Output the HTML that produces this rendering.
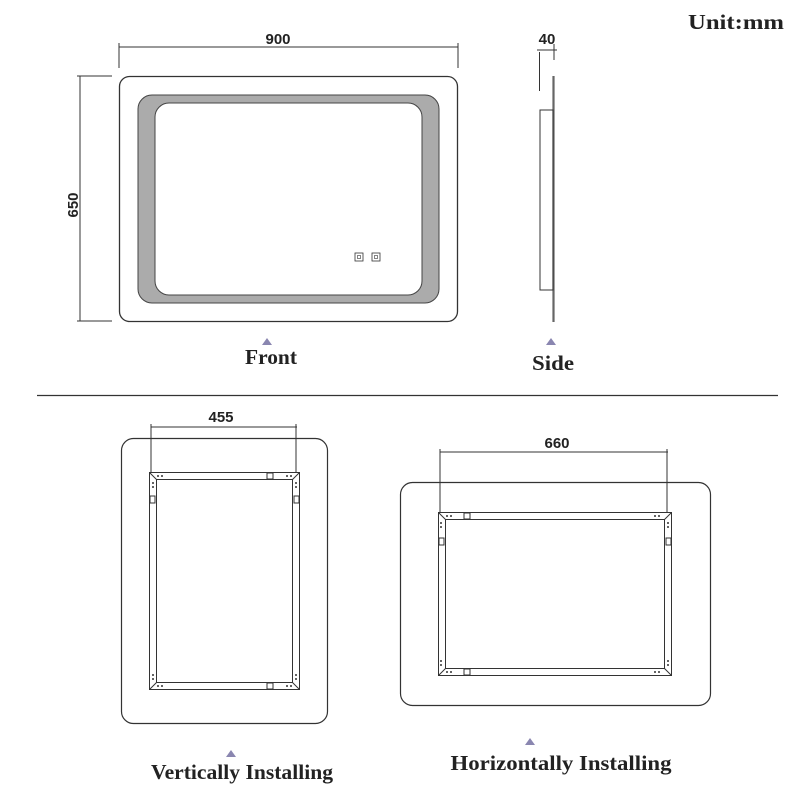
<!DOCTYPE html>
<html><head><meta charset="utf-8"><style>
html,body{margin:0;padding:0;background:#fff}
svg{display:block}
.d{font-family:"Liberation Sans",sans-serif;font-weight:bold;font-size:15px;fill:#222}
.t{font-family:"Liberation Serif",serif;font-weight:bold;font-size:21px;fill:#222}
</style></head><body>
<svg width="800" height="800" viewBox="0 0 800 800" xmlns="http://www.w3.org/2000/svg">
<g stroke="#333" fill="none" stroke-width="1">
<!-- Front -->
<line x1="119" y1="47" x2="458" y2="47"/>
<line x1="119" y1="43" x2="119" y2="68"/>
<line x1="458" y1="43" x2="458" y2="68"/>
<line x1="80" y1="76" x2="80" y2="321"/>
<line x1="77" y1="76" x2="112" y2="76"/>
<line x1="77" y1="321" x2="112" y2="321"/>
<rect x="119.5" y="76.5" width="338" height="245" rx="10" stroke-width="1.3"/>
<rect x="138" y="95" width="301" height="208" rx="14" fill="#ababab" stroke="#444"/>
<rect x="155" y="103" width="267" height="192" rx="14" fill="#fff" stroke="#444"/>
<rect x="355" y="253" width="8" height="8" stroke-width="0.8"/>
<rect x="357.5" y="255.5" width="3" height="3" stroke-width="0.6"/>
<rect x="372" y="253" width="8" height="8" stroke-width="0.8"/>
<rect x="374.5" y="255.5" width="3" height="3" stroke-width="0.6"/>
<!-- Side -->
<line x1="537" y1="50" x2="557" y2="50"/>
<line x1="539.5" y1="52" x2="539.5" y2="91"/>
<line x1="554" y1="44" x2="554" y2="60"/>
<line x1="553.5" y1="76" x2="553.5" y2="322" stroke="#666" stroke-width="2.2"/>
<rect x="540" y="110" width="13" height="180"/>
<line x1="37" y1="395.5" x2="778" y2="395.5" stroke-width="1.3"/>
<!-- Vertical -->
<rect x="121.5" y="438.5" width="206" height="285" rx="12" stroke-width="1.2"/>
<line x1="151" y1="427" x2="297" y2="427"/>
<line x1="151" y1="424" x2="151" y2="472"/>
<line x1="296" y1="424" x2="296" y2="472"/>
<rect x="149.5" y="472.5" width="150" height="217"/>
<rect x="156.5" y="479.5" width="136" height="203"/>
<line x1="149.5" y1="472.5" x2="156.5" y2="479.5"/>
<line x1="299.5" y1="472.5" x2="292.5" y2="479.5"/>
<line x1="149.5" y1="689.5" x2="156.5" y2="682.5"/>
<line x1="299.5" y1="689.5" x2="292.5" y2="682.5"/>
<rect x="267" y="473" width="6" height="6"/>
<rect x="267" y="683" width="6" height="6"/>
<rect x="150" y="496" width="5" height="7"/>
<rect x="294" y="496" width="5" height="7"/>
<!-- Horizontal -->
<rect x="400.5" y="482.5" width="310" height="223" rx="12" stroke-width="1.2"/>
<line x1="440" y1="452" x2="668" y2="452"/>
<line x1="440" y1="449" x2="440" y2="512"/>
<line x1="667" y1="449" x2="667" y2="512"/>
<rect x="438.5" y="512.5" width="233" height="163"/>
<rect x="445.5" y="519.5" width="219" height="149"/>
<line x1="438.5" y1="512.5" x2="445.5" y2="519.5"/>
<line x1="671.5" y1="512.5" x2="664.5" y2="519.5"/>
<line x1="438.5" y1="675.5" x2="445.5" y2="668.5"/>
<line x1="671.5" y1="675.5" x2="664.5" y2="668.5"/>
<rect x="464" y="513" width="6" height="6"/>
<rect x="464" y="669" width="6" height="6"/>
<rect x="439" y="538" width="5" height="7"/>
<rect x="666" y="538" width="5" height="7"/>
</g>
<g fill="#333">
<circle cx="158" cy="476" r="1"/><circle cx="162" cy="476" r="1"/>
<circle cx="287" cy="476" r="1"/><circle cx="291" cy="476" r="1"/>
<circle cx="158" cy="686" r="1"/><circle cx="162" cy="686" r="1"/>
<circle cx="287" cy="686" r="1"/><circle cx="291" cy="686" r="1"/>
<circle cx="153" cy="483" r="1"/><circle cx="153" cy="487" r="1"/>
<circle cx="296" cy="483" r="1"/><circle cx="296" cy="487" r="1"/>
<circle cx="153" cy="675" r="1"/><circle cx="153" cy="679" r="1"/>
<circle cx="296" cy="675" r="1"/><circle cx="296" cy="679" r="1"/>
<circle cx="447" cy="516" r="1"/><circle cx="451" cy="516" r="1"/>
<circle cx="655" cy="516" r="1"/><circle cx="659" cy="516" r="1"/>
<circle cx="447" cy="672" r="1"/><circle cx="451" cy="672" r="1"/>
<circle cx="655" cy="672" r="1"/><circle cx="659" cy="672" r="1"/>
<circle cx="441" cy="523" r="1"/><circle cx="441" cy="527" r="1"/>
<circle cx="668" cy="523" r="1"/><circle cx="668" cy="527" r="1"/>
<circle cx="441" cy="661" r="1"/><circle cx="441" cy="665" r="1"/>
<circle cx="668" cy="661" r="1"/><circle cx="668" cy="665" r="1"/>
</g>
<g fill="#8a86b0">
<polygon points="267,338 272,345 262,345"/>
<polygon points="551,338 556,345 546,345"/>
<polygon points="231,750 236,757 226,757"/>
<polygon points="530,738 535,745 525,745"/>
</g>
<text class="d" x="278" y="44" text-anchor="middle">900</text>
<text class="d" x="78" y="205" text-anchor="middle" transform="rotate(-90 78 205)">650</text>
<text class="d" x="547" y="44" text-anchor="middle">40</text>
<text class="d" x="221" y="422" text-anchor="middle">455</text>
<text class="d" x="557" y="448" text-anchor="middle">660</text>
<text class="t" x="736" y="29" text-anchor="middle" textLength="96" lengthAdjust="spacingAndGlyphs">Unit:mm</text>
<text class="t" x="271" y="364" text-anchor="middle" textLength="52" lengthAdjust="spacingAndGlyphs">Front</text>
<text class="t" x="553" y="370" text-anchor="middle" textLength="42" lengthAdjust="spacingAndGlyphs">Side</text>
<text class="t" x="242" y="779" text-anchor="middle" textLength="182" lengthAdjust="spacingAndGlyphs">Vertically Installing</text>
<text class="t" x="561" y="770" text-anchor="middle" textLength="221" lengthAdjust="spacingAndGlyphs">Horizontally Installing</text>
</svg>
</body></html>
